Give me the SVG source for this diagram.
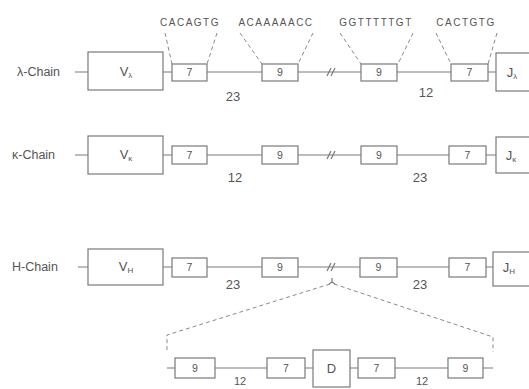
<svg xmlns="http://www.w3.org/2000/svg" width="529" height="389" viewBox="0 0 529 389">
<style>
.bx{fill:#fff;stroke:#7a7a7a;stroke-width:1.2}
.ln{fill:none;stroke:#7a7a7a;stroke-width:1.2}
.ds{fill:none;stroke:#8a8a8a;stroke-width:1;stroke-dasharray:4 3}
text{font-family:"Liberation Sans","DejaVu Sans",sans-serif;fill:#555}
.lab{font-size:12.5px}
.num{font-size:10.5px;text-anchor:middle}
.big{font-size:13px;text-anchor:middle}
.seq{font-size:10px;text-anchor:middle;letter-spacing:1.5px}
.sub{font-size:8px}
</style>
<rect width="529" height="389" fill="#fff"/>
<g id="connectors">
<path class="ln" d="M75 72H88M163 72H172M207 72H262M298 72H361M397 72H451M488 72H496"/>
<path class="ln" d="M327 76l4 -8M331 76l4 -8"/>
<path class="ds" d="M165 33L172 64M217 33L207 64M240 33L262 64M313 33L298 64M340 33L361 64M413 33L398 64M436 33L451 64M497 33L488 64"/>
<path class="ln" d="M75 155H88M163 155H172M207 155H262M298 155H361M397 155H449M486 155H496"/>
<path class="ln" d="M327 159l4 -8M331 159l4 -8"/>
<path class="ln" d="M78 267H88M163 267H172M207 267H262M298 267H360M397 267H449M486 267H493"/>
<path class="ln" d="M327 271l4 -8M331 271l4 -8"/>
<path class="ln" d="M332 278V282M329 284L332 282L335 284"/>
<path class="ds" d="M330 284L167 335V350M334 284L493 337V352"/>
<path class="ln" d="M167 368H175M215 368H267M305 368H313M350 368H358M395 368H448M483 368H493"/>
</g>
<g id="lambda">
<text class="lab" x="17" y="76">λ-Chain</text>
<rect class="bx" x="88" y="52" width="75" height="38"/>
<text class="big" x="126" y="76">V<tspan class="sub" dy="2">λ</tspan></text>
<rect class="bx" x="172" y="64" width="35" height="17"/>
<text class="num" x="189.5" y="76">7</text>
<rect class="bx" x="262" y="64" width="36" height="17"/>
<text class="num" x="280" y="76">9</text>
<rect class="bx" x="361" y="64" width="36" height="17"/>
<text class="num" x="379" y="76">9</text>
<rect class="bx" x="451" y="64" width="37" height="17"/>
<text class="num" x="469.5" y="76">7</text>
<rect class="bx" x="496" y="53" width="40" height="38"/>
<text class="big" x="512" y="77">J<tspan class="sub" dy="2">λ</tspan></text>
<text class="big" x="233" y="101">23</text>
<text class="big" x="426" y="97">12</text>
<text class="seq" x="190" y="26">CACAGTG</text>
<text class="seq" x="276" y="26">ACAAAAACC</text>
<text class="seq" x="376" y="26">GGTTTTTGT</text>
<text class="seq" x="466" y="26">CACTGTG</text>
</g>
<g id="kappa">
<text class="lab" x="12" y="159">κ-Chain</text>
<rect class="bx" x="88" y="136" width="75" height="38"/>
<text class="big" x="126" y="159">V<tspan class="sub" dy="2">κ</tspan></text>
<rect class="bx" x="172" y="146" width="35" height="18"/>
<text class="num" x="189.5" y="159">7</text>
<rect class="bx" x="262" y="146" width="36" height="18"/>
<text class="num" x="280" y="159">9</text>
<rect class="bx" x="361" y="146" width="36" height="18"/>
<text class="num" x="379" y="159">9</text>
<rect class="bx" x="449" y="146" width="37" height="18"/>
<text class="num" x="467.5" y="159">7</text>
<rect class="bx" x="496" y="137" width="40" height="36"/>
<text class="big" x="511" y="160">J<tspan class="sub" dy="2">κ</tspan></text>
<text class="big" x="235" y="182">12</text>
<text class="big" x="420" y="182">23</text>
</g>
<g id="heavy">
<text class="lab" x="12" y="271">H-Chain</text>
<rect class="bx" x="88" y="249" width="75" height="36"/>
<text class="big" x="126" y="271">V<tspan class="sub" dy="2">H</tspan></text>
<rect class="bx" x="172" y="258" width="35" height="19"/>
<text class="num" x="189.5" y="271">7</text>
<rect class="bx" x="262" y="258" width="36" height="19"/>
<text class="num" x="280" y="271">9</text>
<rect class="bx" x="360" y="258" width="37" height="19"/>
<text class="num" x="378.5" y="271">9</text>
<rect class="bx" x="449" y="258" width="37" height="19"/>
<text class="num" x="467.5" y="271">7</text>
<rect class="bx" x="493" y="252" width="40" height="34"/>
<text class="big" x="509" y="272">J<tspan class="sub" dy="2">H</tspan></text>
<text class="big" x="233" y="289">23</text>
<text class="big" x="420" y="289">23</text>
</g>
<g id="dsegment">
<rect class="bx" x="175" y="358" width="40" height="20"/>
<text class="num" x="195" y="372">9</text>
<rect class="bx" x="267" y="358" width="38" height="20"/>
<text class="num" x="286" y="372">7</text>
<rect class="bx" x="313" y="350" width="37" height="37"/>
<text class="big" x="331.5" y="373">D</text>
<rect class="bx" x="358" y="358" width="37" height="20"/>
<text class="num" x="376.5" y="372">7</text>
<rect class="bx" x="448" y="358" width="35" height="20"/>
<text class="num" x="465.5" y="372">9</text>
<text class="big" x="240" y="385" style="font-size:11px">12</text>
<text class="big" x="422" y="385" style="font-size:11px">12</text>
</g>
</svg>
